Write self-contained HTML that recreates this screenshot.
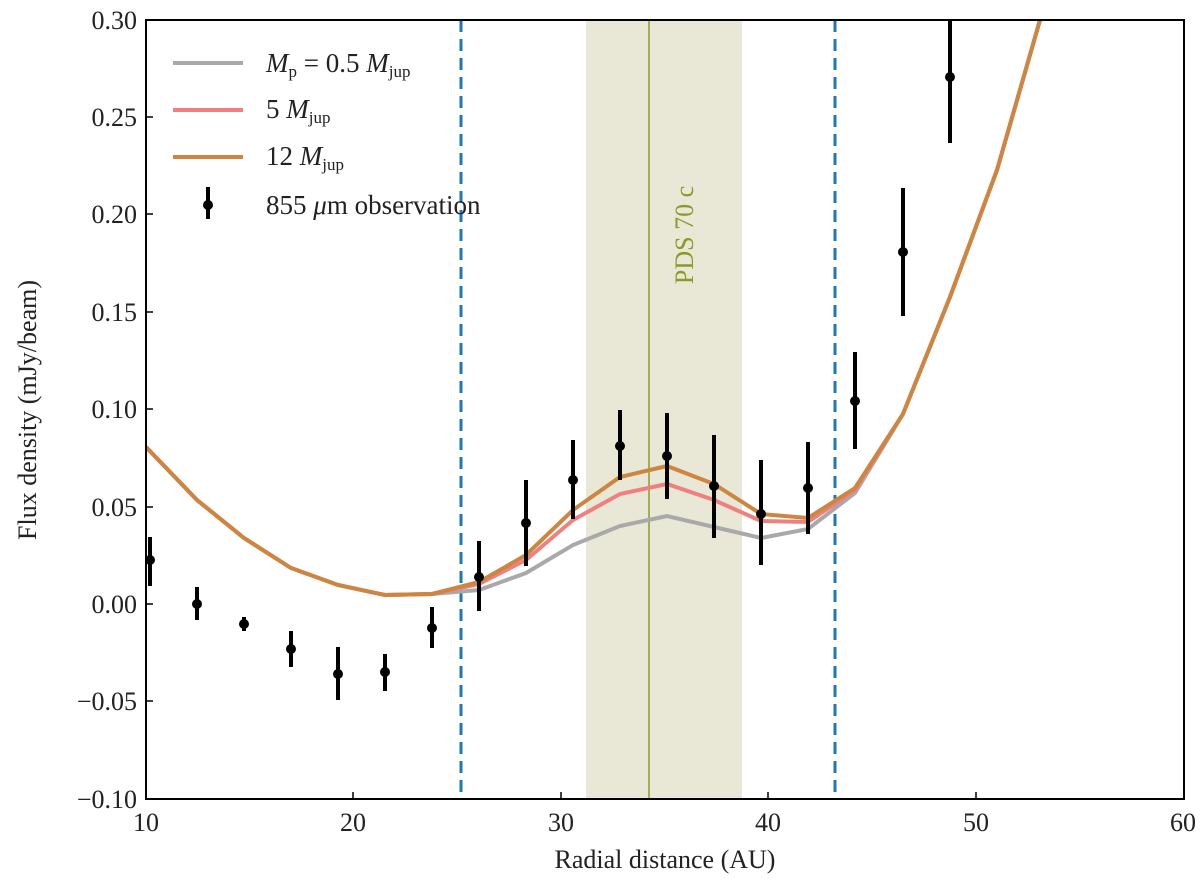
<!DOCTYPE html><html><head><style>body{margin:0;background:#fff}text{font-family:"Liberation Serif",serif;fill:#222}</style></head><body>
<svg width="1200" height="885" xmlns="http://www.w3.org/2000/svg">
<defs><clipPath id="c"><rect x="146" y="20" width="1038" height="779"/></clipPath></defs>
<g clip-path="url(#c)">
<rect x="586" y="20" width="156" height="779" fill="#e9e8d6"/>
<line x1="649" y1="20" x2="649" y2="799" stroke="#8c9a2a" stroke-width="1.5"/>
<text x="0" y="0" font-size="26" transform="translate(693,235) rotate(-90)" text-anchor="middle" style="fill:#8c9a2a">PDS 70 c</text>
<line x1="461" y1="20" x2="461" y2="799" stroke="#1f77b4" stroke-width="3" stroke-dasharray="12,7"/>
<line x1="835" y1="20" x2="835" y2="799" stroke="#1f77b4" stroke-width="3" stroke-dasharray="12,7"/>
<polyline fill="none" stroke="#a9a9a9" stroke-width="4" points="146,447 197,500 244,538 291,568 338,585 385,595 432,594 479,590 526,573 573,545 620,526 667,516 714,527 761,538 808,529 855,493 903,414 950,297 997,170 1040,20"/>
<polyline fill="none" stroke="#f08080" stroke-width="4" points="146,447 197,500 244,538 291,568 338,585 385,595 432,594 479,584 526,560 573,520 620,494 667,484 714,500 761,521 808,522 855,490 903,414 950,297 997,170 1040,20"/>
<polyline fill="none" stroke="#cd853f" stroke-width="4" points="146,447 197,500 244,538 291,568 338,585 385,595 432,594 479,582 526,555 573,510 620,477 667,466 714,484 761,514 808,518 855,488 903,414 950,297 997,170 1040,20"/>
<g stroke="#000" stroke-width="4">
<line x1="150" y1="537" x2="150" y2="586"/><line x1="197" y1="587" x2="197" y2="620"/><line x1="244" y1="617" x2="244" y2="631"/><line x1="291" y1="631" x2="291" y2="667"/><line x1="338" y1="647" x2="338" y2="700"/><line x1="385" y1="654" x2="385" y2="691"/><line x1="432" y1="607" x2="432" y2="648"/><line x1="479" y1="541" x2="479" y2="611"/><line x1="526" y1="480" x2="526" y2="566"/><line x1="573" y1="440" x2="573" y2="519"/><line x1="620" y1="410" x2="620" y2="480"/><line x1="667" y1="413" x2="667" y2="499"/><line x1="714" y1="435" x2="714" y2="538"/><line x1="761" y1="460" x2="761" y2="565"/><line x1="808" y1="442" x2="808" y2="534"/><line x1="855" y1="352" x2="855" y2="449"/><line x1="903" y1="188" x2="903" y2="316"/><line x1="950" y1="15" x2="950" y2="143"/>
</g>
<g fill="#000">
<circle cx="150" cy="560" r="5"/><circle cx="197" cy="604" r="5"/><circle cx="244" cy="624" r="5"/><circle cx="291" cy="649" r="5"/><circle cx="338" cy="674" r="5"/><circle cx="385" cy="672" r="5"/><circle cx="432" cy="628" r="5"/><circle cx="479" cy="577" r="5"/><circle cx="526" cy="523" r="5"/><circle cx="573" cy="480" r="5"/><circle cx="620" cy="446" r="5"/><circle cx="667" cy="456" r="5"/><circle cx="714" cy="486" r="5"/><circle cx="761" cy="514" r="5"/><circle cx="808" cy="488" r="5"/><circle cx="855" cy="401" r="5"/><circle cx="903" cy="252" r="5"/><circle cx="950" cy="77" r="5"/>
</g>
</g>
<rect x="146" y="20" width="1038" height="779" fill="none" stroke="#000" stroke-width="2"/>
<g stroke="#000" stroke-width="1.5">
<line x1="353" y1="799" x2="353" y2="792"/><line x1="561" y1="799" x2="561" y2="792"/><line x1="768" y1="799" x2="768" y2="792"/><line x1="976" y1="799" x2="976" y2="792"/>
<line x1="146" y1="117" x2="153" y2="117"/><line x1="146" y1="214" x2="153" y2="214"/><line x1="146" y1="312" x2="153" y2="312"/><line x1="146" y1="409" x2="153" y2="409"/><line x1="146" y1="507" x2="153" y2="507"/><line x1="146" y1="604" x2="153" y2="604"/><line x1="146" y1="701" x2="153" y2="701"/>
</g>
<g font-size="26" text-anchor="middle">
<text x="146" y="831">10</text><text x="353" y="831">20</text><text x="561" y="831">30</text><text x="768" y="831">40</text><text x="976" y="831">50</text><text x="1183" y="831">60</text>
<text x="665" y="868">Radial distance (AU)</text>
</g>
<g font-size="26" text-anchor="end">
<text x="137" y="29">0.30</text><text x="137" y="126">0.25</text><text x="137" y="223">0.20</text><text x="137" y="321">0.15</text><text x="137" y="418">0.10</text><text x="137" y="516">0.05</text><text x="137" y="613">0.00</text><text x="137" y="710">−0.05</text><text x="137" y="808">−0.10</text>
</g>
<text font-size="26" transform="translate(36,410) rotate(-90)" text-anchor="middle">Flux density (mJy/beam)</text>
<g stroke-width="4">
<line x1="173" y1="63" x2="243" y2="63" stroke="#a9a9a9"/>
<line x1="173" y1="110" x2="243" y2="110" stroke="#f08080"/>
<line x1="173" y1="157" x2="243" y2="157" stroke="#cd853f"/>
<line x1="208" y1="187" x2="208" y2="219" stroke="#000"/>
</g>
<circle cx="208" cy="205" r="5" fill="#000"/>
<g font-size="27">
<text x="266" y="72"><tspan font-style="italic">M</tspan><tspan font-size="17" dy="5">p</tspan><tspan dy="-5"> = 0.5 </tspan><tspan font-style="italic">M</tspan><tspan font-size="17" dy="5">jup</tspan></text>
<text x="266" y="118">5 <tspan font-style="italic">M</tspan><tspan font-size="17" dy="5">jup</tspan></text>
<text x="266" y="165">12 <tspan font-style="italic">M</tspan><tspan font-size="17" dy="5">jup</tspan></text>
<text x="266" y="214">855 <tspan font-style="italic">μ</tspan>m observation</text>
</g>
</svg></body></html>
